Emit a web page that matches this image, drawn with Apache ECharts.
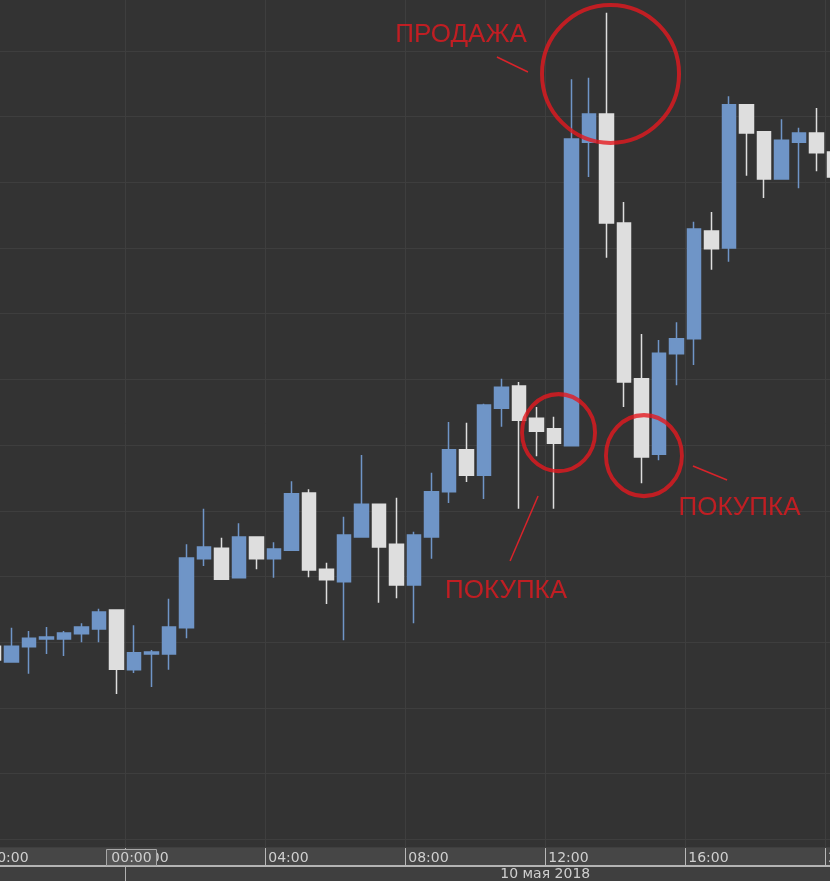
<!DOCTYPE html>
<html>
<head>
<meta charset="utf-8">
<script src="https://cdn.jsdelivr.net/npm/echarts@6/dist/echarts.min.js"></script>
<style>
html,body{margin:0;padding:0;background:#333333;}
#chart{width:830px;height:881px;}
</style>
</head>
<body>
<div id="chart"></div>
<script>
// ---- data (30-minute candles, 9 May 20:00 .. 10 May 20:00) ----
const categories = [
  "09.05 20:00","09.05 20:30","09.05 21:00","09.05 21:30","09.05 22:00","09.05 22:30","09.05 23:00","09.05 23:30",
  "10.05 00:00","10.05 00:30","10.05 01:00","10.05 01:30","10.05 02:00","10.05 02:30","10.05 03:00","10.05 03:30",
  "10.05 04:00","10.05 04:30","10.05 05:00","10.05 05:30","10.05 06:00","10.05 06:30","10.05 07:00","10.05 07:30",
  "10.05 08:00","10.05 08:30","10.05 09:00","10.05 09:30","10.05 10:00","10.05 10:30","10.05 11:00","10.05 11:30",
  "10.05 12:00","10.05 12:30","10.05 13:00","10.05 13:30","10.05 14:00","10.05 14:30","10.05 15:00","10.05 15:30",
  "10.05 16:00","10.05 16:30","10.05 17:00","10.05 17:30","10.05 18:00","10.05 18:30","10.05 19:00","10.05 19:30",
  "10.05 20:00"
];
const openValues  = [29.4,27.0,29.3,30.5,30.5,31.3,32.0,34.9,25.8,28.2,28.2,32.2,42.7,44.3,39.8,46.0,42.7,44.0,52.7,41.1,39.2,46.0,51.0,44.9,38.7,46.0,52.9,59.3,55.4,65.6,69.0,64.1,62.5,59.9,106.1,110.4,93.8,70.1,58.6,73.9,76.2,92.6,90.0,111.8,107.7,100.5,106.1,107.5,104.6];
const closeValues = [27.3,29.4,30.6,30.8,31.4,32.3,34.6,25.9,28.4,28.5,32.3,42.8,44.5,39.6,46.0,42.7,44.2,52.6,41.0,39.5,46.3,51.0,44.5,38.7,46.3,52.9,59.3,55.4,66.1,68.8,63.8,62.1,60.3,106.6,110.4,93.8,69.6,58.2,74.0,76.2,92.9,89.9,111.8,107.5,100.5,106.4,107.5,104.5,100.8];
const lowValues   = [27.0,27.0,25.2,28.2,27.9,30.0,30.0,22.1,25.3,23.2,25.8,30.6,41.6,39.6,39.8,41.1,39.8,44.0,39.9,35.8,30.3,46.0,36.0,36.7,32.9,42.7,51.2,54.4,51.8,62.8,50.3,58.3,50.3,59.9,100.8,88.5,65.8,54.2,57.7,69.1,72.2,86.7,87.9,101.0,97.6,100.5,99.1,101.7,100.4];
const highValues  = [29.7,32.2,31.7,32.3,31.7,32.9,35.1,34.9,32.6,28.8,36.6,44.9,50.3,45.9,48.1,46.0,45.2,54.5,53.3,42.1,49.1,58.5,51.0,52.0,46.8,55.8,63.5,63.4,66.3,70.1,69.6,65.8,64.3,115.7,115.9,125.8,97.0,76.9,76.0,78.7,94.0,95.5,113.1,111.9,107.7,109.6,108.3,111.3,104.9];

// axis tick labels (every 4 hours) and the date label
const timeTickLabels = ["20:00","00:00","04:00","08:00","12:00","16:00","20:00"];
const dateLabel = "10 мая 2018";
const dateLabelAt = 31.5;      // centre of the 10 May day (axis units)
const dayStartIndices = [0, 8]; // category indices where a day-row separator is drawn
const cursorLabel = "00:00";

// annotations (x in candle-index units, y in price units)
const circleCenters = [[35.23,116.5],[32.26,61.9],[37.14,58.4]];
const circleSizes   = [[137,138],[73,77],[76,81]];
const noteTexts     = ["ПРОДАЖА","ПОКУПКА","ПОКУПКА"];
const notePositions = [[26.69,122.4],[29.26,37.8],[42.6,50.5]];
const leaderLines   = [
  [[28.74,119.07],[30.51,116.79]],
  [[31.09,52.25],[29.49,42.36]],
  [[39.94,56.82],[41.89,54.69]]
];

// ---- chart ----
const RED = '#e3191f';
const UP = '#6f95c7';
const DOWN = '#dedede';
const GRIDLINE = '#3e3e3e';
const LABEL = '#cfcfcf';
const chart = echarts.init(document.getElementById('chart'), null, {renderer:'canvas'});

const candleData = categories.map((c,k)=>[openValues[k],closeValues[k],lowValues[k],highValues[k]]);
const xMin = -0.5, xMax = categories.length - 0.5;

function tickText(v){
  const k = Math.round((v - xMin)/8);
  if (Math.abs(v - (xMin + 8*k)) > 1e-6) return '';
  return timeTickLabels[k] || '';
}

const option = {
  animation:false,
  backgroundColor:'#3f3f3f',
  grid:[
    {left:-14.75, top:0, width:857.5, height:847, containLabel:false, outerBoundsMode:'none',
     show:true, backgroundColor:'#333333', borderWidth:0},
    {left:-14.75, top:848, width:857.5, height:18, containLabel:false, outerBoundsMode:'none',
     show:true, backgroundColor:'#464646', borderWidth:0}
  ],
  xAxis:[
    {type:'category', gridIndex:0, data:categories, boundaryGap:true,
     axisLine:{show:false}, axisTick:{show:false}, axisLabel:{show:false}, splitLine:{show:false}},
    {type:'value', gridIndex:0, min:xMin, max:xMax, interval:8,
     axisLine:{show:false,onZero:false}, axisTick:{show:false}, axisLabel:{show:false},
     splitLine:{show:true, showMinLine:false, showMaxLine:false, lineStyle:{color:GRIDLINE,width:1}}},
    {type:'value', gridIndex:1, position:'bottom', min:xMin, max:xMax, interval:8, z:5,
     axisLine:{show:true, onZero:false, lineStyle:{color:'#b4b4b4', width:2}},
     axisTick:{show:true, inside:true, length:18, lineStyle:{color:'#b8b8b8', width:1}},
     axisLabel:{show:true, inside:true, align:'left', padding:[0,0,0,3], margin:1,
       showMinLabel:true, showMaxLabel:false,
       color:LABEL, fontSize:14, fontFamily:'DejaVu Sans', formatter:tickText},
     splitLine:{show:false}},
    {type:'category', gridIndex:1, position:'bottom', data:categories, boundaryGap:true, z:5,
     axisLine:{show:false,onZero:false},
     axisTick:{show:true, inside:false, length:15,
       interval:function(i){return dayStartIndices.indexOf(i) >= 0;},
       lineStyle:{color:'#b0b0b0',width:1}},
     axisLabel:{show:false}, splitLine:{show:false}},
    {type:'value', gridIndex:1, position:'bottom', min:xMin, max:xMax, interval:8, z:5,
     axisLine:{show:false,onZero:false}, axisTick:{show:false},
     axisLabel:{show:true, margin:1, color:LABEL, fontSize:14, fontFamily:'DejaVu Sans',
       formatter:function(v){return Math.abs(v-dateLabelAt)<1e-6 ? dateLabel : '';}},
     splitLine:{show:false}}
  ],
  yAxis:[
    {type:'value', gridIndex:0, min:-1.17, max:127.75, minInterval:10, maxInterval:10, splitNumber:13,
     axisLine:{show:false}, axisTick:{show:false}, axisLabel:{show:false},
     splitLine:{show:true, showMinLine:false, showMaxLine:false, lineStyle:{color:GRIDLINE,width:1}}},
    {type:'value', gridIndex:1, min:0, max:1, show:false}
  ],
  series:[
    {type:'candlestick', xAxisIndex:0, yAxisIndex:0, data:candleData, barWidth:14,
     itemStyle:{color:UP, color0:DOWN, borderColor:UP, borderColor0:DOWN, borderWidth:1.5}},
    {type:'scatter', xAxisIndex:1, yAxisIndex:0, silent:true, z:10,
     data:circleCenters,
     symbol:'circle',
     symbolSize:function(v,p){return circleSizes[p.dataIndex];},
     itemStyle:{color:'rgba(0,0,0,0)', borderColor:RED, borderWidth:4},
     markLine:{silent:true, symbol:['none','none'], label:{show:false},
       lineStyle:{color:'#d8232a', width:1.5, type:'solid'},
       emphasis:{disabled:true},
       data:leaderLines.map(s=>[{coord:s[0]},{coord:s[1]}])}},
    {type:'scatter', xAxisIndex:1, yAxisIndex:0, silent:true, z:11,
     data:notePositions, symbol:'circle', symbolSize:1,
     itemStyle:{color:'rgba(0,0,0,0)'},
     label:{show:true, position:'inside', formatter:function(p){return noteTexts[p.dataIndex];},
       color:RED, fontSize:26, fontFamily:'Liberation Sans, Arial, sans-serif'}}
  ],
  graphic:{
    zlevel:1,
    elements:[
      {type:'rect', z:100, zlevel:1, shape:{x:106.5,y:849.5,width:50,height:16},
       style:{fill:'#555555', stroke:'#a8a8a8', lineWidth:1}},
      {type:'text', z:101, zlevel:1, x:131.5, y:858,
       style:{text:cursorLabel, fill:LABEL, font:'14px "DejaVu Sans"', textAlign:'center', textVerticalAlign:'middle'}}
    ]
  }
};
chart.setOption(option);
</script>
</body>
</html>
